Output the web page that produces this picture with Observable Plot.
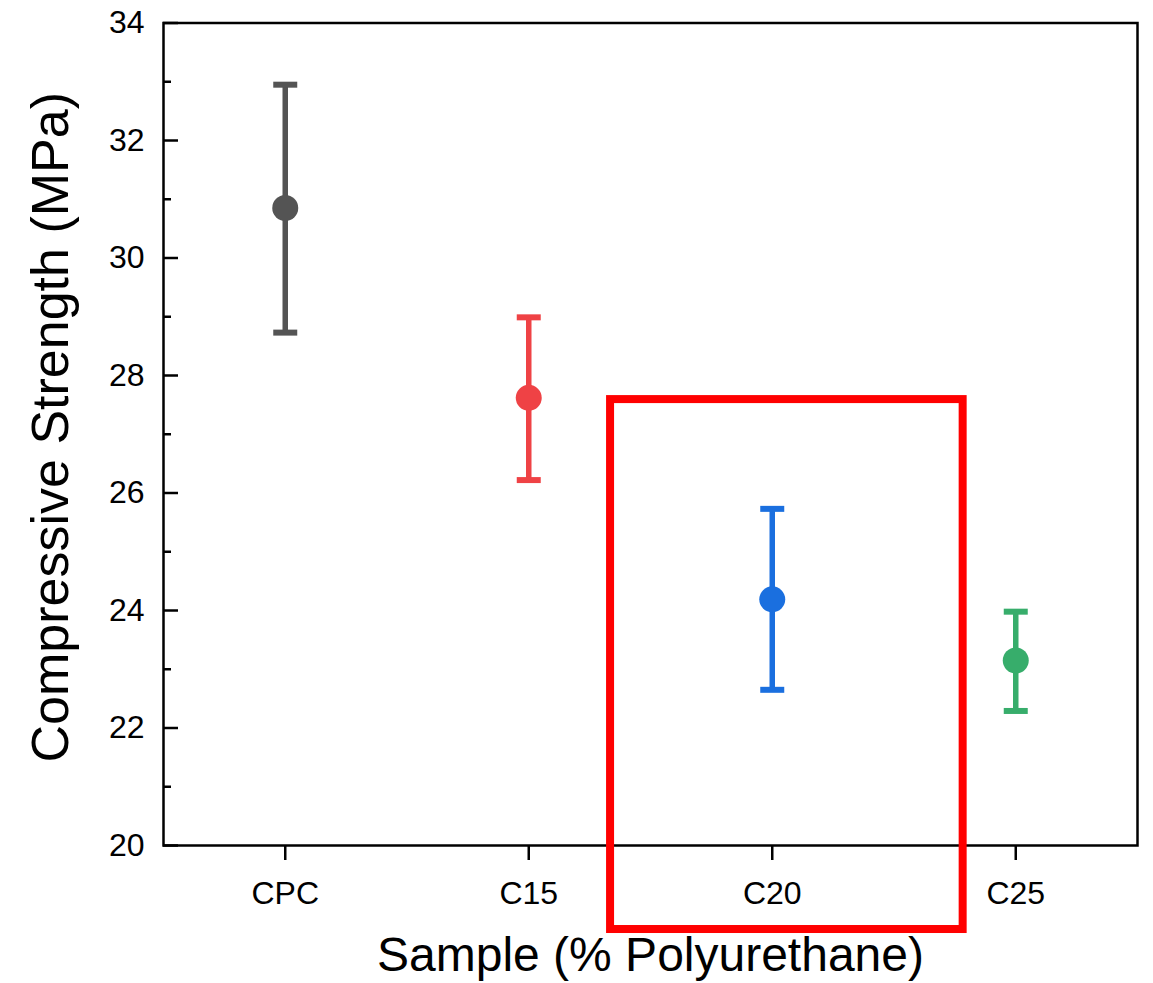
<!DOCTYPE html>
<html><head><meta charset="utf-8">
<script src="https://cdn.jsdelivr.net/npm/d3@7"></script>
<script src="https://cdn.jsdelivr.net/npm/@observablehq/plot@0.6"></script>
<style>body{margin:0;background:#fff}</style>
</head><body><div id="chart"></div>
<script>
const samples = ["CPC", "C15", "C20", "C25"];
const means = [30.85, 27.62, 24.19, 23.15];
const upper = [32.95, 28.99, 25.73, 23.98];
const lower = [28.73, 26.22, 22.65, 22.29];
const colors = ["#545454", "#EF4245", "#1A6FDF", "#37AD6B"];
const yMajorTicks = [20, 22, 24, 26, 28, 30, 32, 34];
const yMinorTicks = [21, 23, 25, 27, 29, 31, 33];
const xLabel = "Sample (% Polyurethane)";
const yLabel = "Compressive Strength (MPa)";
// highlight box around C20 (data units: sample index, MPa)
const highlight = [{x1: 1.336, x2: 2.784, y1: 18.57, y2: 27.59}];

const data = samples.map((s, i) => ({i, sample: s, mean: means[i], hi: upper[i], lo: lower[i], color: colors[i]}));

const capSymbol = {
  draw(context, size) {
    const w = Math.sqrt(size / Math.PI);
    context.moveTo(-w, 0);
    context.lineTo(w, 0);
  }
};

const chart = Plot.plot({
  width: 1153,
  height: 983,
  marginTop: 22.5,
  marginLeft: 163,
  marginRight: 16,
  marginBottom: 138,
  x: {domain: [-0.5, 3.5], axis: null},
  y: {domain: [20, 34], axis: null},
  color: {type: "identity"},
  style: {fontFamily: "'Liberation Sans', Arial, sans-serif", background: "white", color: "black"},
  marks: [
    Plot.frame({stroke: "black", strokeWidth: 2.5}),
    Plot.axisY({ticks: yMajorTicks, tickSize: 15, dx: 15, text: null, label: null, strokeWidth: 2.5}),
    Plot.axisY({ticks: yMinorTicks, tickSize: 8, dx: 8, text: null, label: null, strokeWidth: 2.5}),
    Plot.axisY({ticks: yMajorTicks, tickSize: 0, tickPadding: 19, fontSize: 32, label: null}),
    Plot.axisX({ticks: [0, 1, 2, 3], tickFormat: i => samples[i], tickSize: 15, tickPadding: 21, fontSize: 32, strokeWidth: 2.5, label: null}),
    Plot.ruleX(data, {x: "i", y1: "lo", y2: "hi", stroke: "color", strokeWidth: 5.5}),
    Plot.dot(data, {x: "i", y: "hi", symbol: capSymbol, r: 12, stroke: "color", strokeWidth: 6, fill: "none"}),
    Plot.dot(data, {x: "i", y: "lo", symbol: capSymbol, r: 12, stroke: "color", strokeWidth: 6, fill: "none"}),
    Plot.dot(data, {x: "i", y: "mean", r: 13, fill: "color", stroke: null}),
    Plot.text([xLabel], {text: d => d, frameAnchor: "bottom", dy: 110, lineAnchor: "middle", fontSize: 48, fill: "black"}),
    Plot.text([yLabel], {text: d => d, frameAnchor: "left", textAnchor: "middle", rotate: -90, dx: -112, dy: -7, lineAnchor: "middle", fontSize: 52, fill: "black"}),
    Plot.rect(highlight, {x1: "x1", x2: "x2", y1: "y1", y2: "y2", fill: "none", stroke: "#FF0000", strokeWidth: 8})
  ]
});
document.getElementById("chart").appendChild(chart);
</script>
</body></html>
